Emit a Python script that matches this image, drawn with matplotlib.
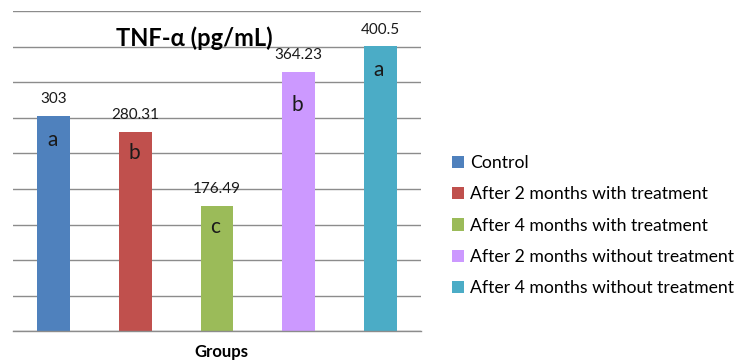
import matplotlib
matplotlib.use("Agg")
import matplotlib.pyplot as plt
from matplotlib.patches import Patch

plt.rcParams["font.family"] = ["Lato", "DejaVu Sans"]

# Data
groups = [
    "Control",
    "After 2 months with treatment",
    "After 4 months with treatment",
    "After 2 months without treatment",
    "After 4 months without treatment",
]
values = [303, 280.31, 176.49, 364.23, 400.5]
value_labels = ["303", "280.31", "176.49", "364.23", "400.5"]
letters = ["a", "b", "c", "b", "a"]
colors = ["#4F81BD", "#C0504D", "#9BBB59", "#CC99FF", "#4BACC6"]
yticks = list(range(0, 451, 50))

fig = plt.figure(figsize=(7.37, 3.63), dpi=100, facecolor="white")
ax = fig.add_axes([13 / 737, 31.7 / 363, 408 / 737, 320.3 / 363])

x = list(range(len(values)))
ax.bar(x, values, width=0.4, color=colors, zorder=2)

# Value labels above bars, letters inside bars
letter_offsets = [24, 21, 21, 33, 24]
for xi, v, lab, let, off in zip(x, values, value_labels, letters, letter_offsets):
    ax.annotate(lab, (xi, v), xytext=(0, 12), textcoords="offset points",
                ha="center", va="center", fontsize=11, color="#1a1a1a")
    ax.annotate(let, (xi, v), xytext=(-1, -off * 0.72), textcoords="offset points",
                ha="center", va="center", fontsize=15, color="#1a1a1a")

ax.set_xlim(-0.5, 4.5)
ax.set_ylim(0, 450)
ax.set_yticks(yticks)
ax.yaxis.grid(True, color="#8c8c8c", linewidth=1.0, zorder=0)
ax.set_axisbelow(True)
ax.set_xticks([])
ax.tick_params(axis="y", length=0, labelleft=False)
for side in ["left", "right", "top"]:
    ax.spines[side].set_visible(False)
ax.spines["bottom"].set_color("#8c8c8c")
ax.spines["bottom"].set_linewidth(1.0)

fig.text(194 / 737, 1 - 38 / 363, "TNF-α (pg/mL)", ha="center", va="center",
         fontsize=17, fontweight="bold", color="black")
fig.text(221 / 737, 1 - 352 / 363, "Groups", ha="center", va="center",
         fontsize=12, fontweight="bold", color="black")

handles = [Patch(facecolor=c, edgecolor="none") for c in colors]
fig.legend(handles, groups, loc="upper left", bbox_to_anchor=(452 / 737, 1 - 155 / 363),
           frameon=False, fontsize=12.7, handlelength=0.7, handleheight=0.7,
           handletextpad=0.3, labelspacing=0.87, borderpad=0, borderaxespad=0)

fig.savefig("out.png", dpi=100, facecolor="white")
